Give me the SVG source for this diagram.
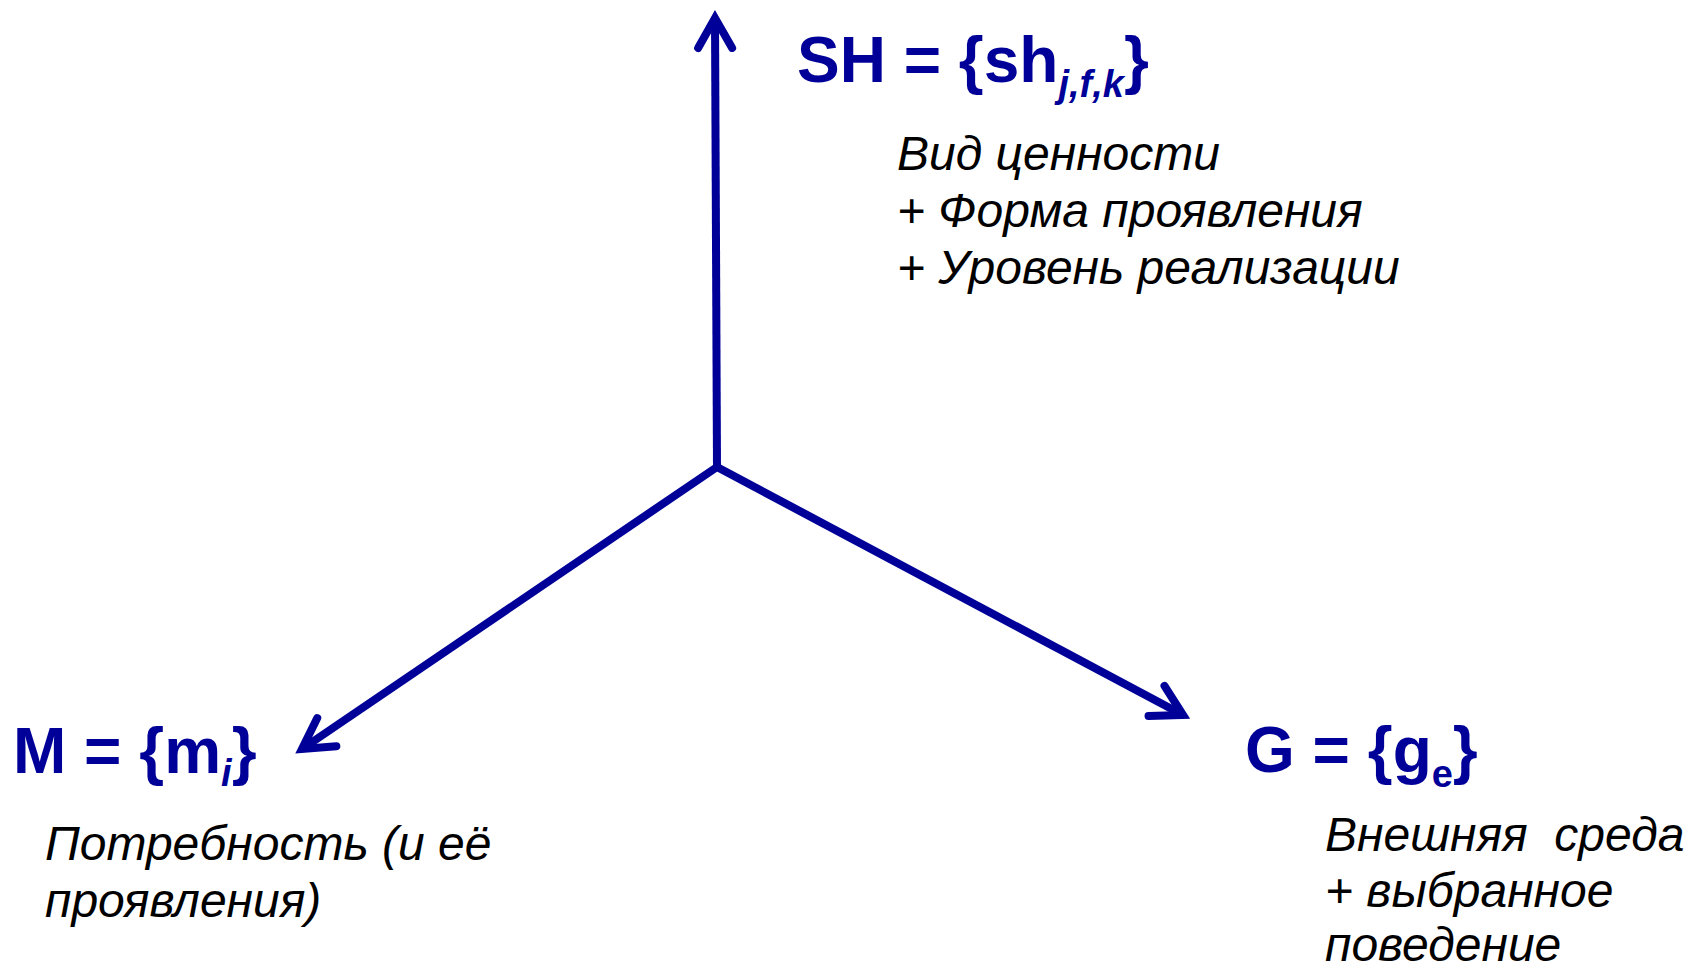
<svg xmlns="http://www.w3.org/2000/svg" width="1690" height="971" viewBox="0 0 1690 971">
<style>
.ttl{font-family:"Liberation Sans",Arial,sans-serif;font-weight:bold;font-size:64px;fill:#000099}
.sub{font-style:italic;font-size:38px}
.desc{font-family:"Liberation Sans",Arial,sans-serif;font-style:italic;font-size:48px;fill:#000}
.ax{stroke:#000099;stroke-width:8;fill:none}
</style>
<defs>
<marker id="ah" markerUnits="userSpaceOnUse" markerWidth="80" markerHeight="80" viewBox="-40 -40 80 80" refX="0" refY="0" orient="auto" overflow="visible">
<path d="M -30 -17 L 0 0 L -30 17" fill="none" stroke="#000099" stroke-width="8" stroke-linecap="round" stroke-linejoin="miter"/>
</marker>
</defs>
<rect width="1690" height="971" fill="#fff"/>
<g id="connectors">
<line class="ax" x1="717" y1="467" x2="715" y2="18" marker-end="url(#ah)"/>
<line class="ax" x1="717" y1="467" x2="302" y2="749" marker-end="url(#ah)"/>
<line class="ax" x1="717" y1="467" x2="1183" y2="715" marker-end="url(#ah)"/>
</g>
<g id="node-sh">
<text class="ttl" x="797" y="82">SH = {sh<tspan class="sub" dy="15">j,f,k</tspan><tspan dy="-15">}</tspan></text>
<text class="desc"><tspan x="897" y="170">Вид ценности</tspan><tspan x="897" y="227">+ Форма проявления</tspan><tspan x="897" y="284">+ Уровень реализации</tspan></text>
</g>
<g id="node-m">
<text class="ttl" x="13" y="773">M = {m<tspan class="sub" dy="13">i</tspan><tspan dy="-13">}</tspan></text>
<text class="desc"><tspan x="45" y="860">Потребность (и её</tspan><tspan x="45" y="917">проявления)</tspan></text>
</g>
<g id="node-g">
<text class="ttl" x="1245" y="772">G = {g<tspan style="font-size:38px" dy="15">e</tspan><tspan dy="-15">}</tspan></text>
<text class="desc" xml:space="preserve"><tspan x="1325" y="851">Внешняя  среда</tspan><tspan x="1325" y="907">+ выбранное</tspan><tspan x="1325" y="961">поведение</tspan></text>
</g>
</svg>
